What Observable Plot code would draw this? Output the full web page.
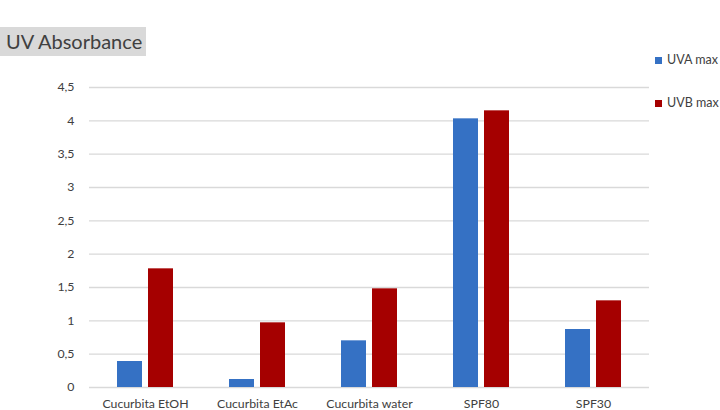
<!DOCTYPE html>
<html><head><meta charset="utf-8">
<script src="https://cdn.jsdelivr.net/npm/d3@7"></script>
<script src="https://cdn.jsdelivr.net/npm/@observablehq/plot@0.6"></script>
<style>
body{margin:0;background:#fff;overflow:hidden;font-family:Lato,"Open Sans",sans-serif}
#wrap{position:relative;width:720px;height:410px;overflow:hidden}
#chart{position:absolute;left:0;top:0}
#title{position:absolute;left:0;top:27px;height:29px;width:146px;background:#d9d9d9;color:#404040;font-size:20px;line-height:29px;padding-left:6px;box-sizing:border-box;white-space:nowrap}
.leg{position:absolute;left:655px;font-size:12.5px;color:#404040;white-space:nowrap;line-height:14px}
.leg span.sw{display:inline-block;width:7px;height:7px;margin-right:5px;vertical-align:0px}
</style></head>
<body><div id="wrap"><div id="chart"></div><div id="title">UV Absorbance</div><div id="legend"></div></div>
<script>
const categories = ["Cucurbita EtOH","Cucurbita EtAc","Cucurbita water","SPF80","SPF30"];
const series = ["UVA max","UVB max"];
const uvaMax = [0.39,0.12,0.70,4.03,0.87];
const uvbMax = [1.78,0.97,1.48,4.15,1.30];
const yTicks = [0,0.5,1,1.5,2,2.5,3,3.5,4,4.5];
const colors = ["#3571c4","#a50000"];

const rows = [];
categories.forEach((c,i)=>{
  rows.push({category:c, series:series[0], value:uvaMax[i]});
  rows.push({category:c, series:series[1], value:uvbMax[i]});
});

const chart = Plot.plot({
  width:720, height:410,
  marginLeft:88, marginRight:70, marginTop:87, marginBottom:23,
  style:{fontFamily:"Lato, 'Open Sans', sans-serif", fontSize:"12.3px", color:"#404040", background:"transparent"},
  fx:{domain:categories, padding:0, axis:"bottom", label:null, tickSize:0, tickPadding:12},
  x:{domain:series, paddingInner:0.19, paddingOuter:0.85, axis:null},
  y:{domain:[0,4.5], ticks:yTicks, tickFormat:d=>String(d).replace(".",","), tickSize:0, tickPadding:15, label:null},
  color:{domain:series, range:colors},
  marks:[
    Plot.ruleY(yTicks, {stroke:"#d9d9d9", strokeWidth:1.3}),
    Plot.barY(rows, {fx:"category", x:"series", y:"value", fill:"series"})
  ]
});
document.getElementById("chart").appendChild(chart);

const legend = document.getElementById("legend");
series.forEach((s,i)=>{
  const d = document.createElement("div");
  d.className = "leg";
  d.style.top = (53 + i*43) + "px";
  d.innerHTML = `<span class="sw" style="background:${colors[i]}"></span>${s}`;
  legend.appendChild(d);
});
</script></body></html>
